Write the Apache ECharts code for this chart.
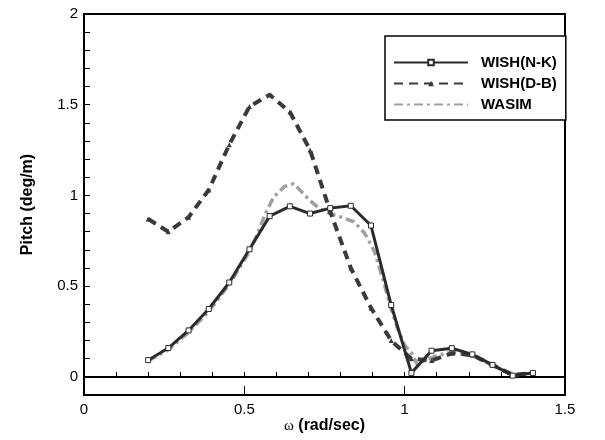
<!DOCTYPE html>
<html><head><meta charset="utf-8">
<script src="https://cdn.jsdelivr.net/npm/echarts@6/dist/echarts.min.js"></script>
<style>html,body{margin:0;padding:0;background:#fff;}#c{width:605px;height:440px;}</style>
</head><body><div id="c"></div>
<script>
const seriesNames = ['WISH(N-K)', 'WISH(D-B)', 'WASIM'];
const xNK = [0.2,0.263,0.326,0.389,0.453,0.516,0.579,0.642,0.705,0.768,0.832,0.895,0.958,1.021,1.084,1.147,1.211,1.274,1.337,1.4];
const yNK = [0.092,0.159,0.256,0.374,0.52,0.703,0.886,0.94,0.9,0.93,0.943,0.834,0.396,0.022,0.144,0.158,0.124,0.066,0.007,0.022];
const xDB = [0.2,0.263,0.326,0.389,0.453,0.516,0.579,0.642,0.705,0.768,0.832,0.895,0.958,1.021,1.084,1.147,1.211,1.274,1.337,1.4];
const yDB = [0.87,0.80,0.88,1.03,1.28,1.49,1.555,1.46,1.25,0.91,0.60,0.38,0.20,0.10,0.09,0.13,0.12,0.065,0.012,0.02];
const xWA = [0.2,0.263,0.326,0.389,0.453,0.516,0.541,0.566,0.591,0.626,0.654,0.676,0.706,0.736,0.776,0.806,0.842,0.876,0.906,0.93,0.952,0.977,1.0,1.022,1.04,1.062,1.092,1.147,1.211,1.274,1.337,1.4];
const yWA = [0.088,0.15,0.245,0.36,0.51,0.69,0.79,0.90,0.99,1.05,1.065,1.025,0.97,0.925,0.895,0.878,0.855,0.79,0.69,0.55,0.41,0.27,0.175,0.13,0.065,0.09,0.112,0.138,0.117,0.063,0.01,0.02];
const xTickLabels = ['0','0.5','1','1.5'];
const yTickLabels = ['0','0.5','1','1.5','2'];

const pairs = (xs, ys) => xs.map((x, i) => [x, ys[i]]);
const font = 'Liberation Sans, Arial, sans-serif';
const chart = echarts.init(document.getElementById('c'));
const isMajor = v => Math.abs(v / 0.5 - Math.round(v / 0.5)) < 1e-6;

chart.setOption({
  animation: false,
  backgroundColor: '#fff',
  grid: { left: 84, right: 40, top: 14, bottom: 45, show: true, borderColor: '#000', borderWidth: 2, backgroundColor: 'transparent' },
  legend: {
    orient: 'vertical', left: 385, top: 36,
    padding: [19, 9, 8, 8], itemGap: 6, itemWidth: 74, itemHeight: 7,
    borderColor: '#000', borderWidth: 1.5, backgroundColor: '#fff',
    textStyle: { fontFamily: font, fontWeight: 'bold', fontSize: 15, color: '#000', padding: [0, 0, 0, 8] },
    data: [seriesNames[0], seriesNames[1], { name: seriesNames[2], itemStyle: { opacity: 0 } }]
  },
  xAxis: [{
    type: 'value', min: 0, max: 1.5, interval: 0.1,
    axisLine: { lineStyle: { color: '#000', width: 2 } },
    axisTick: { inside: true, length: 5, lineStyle: { color: '#000', width: 1 } },
    axisLabel: { show: false },
    splitLine: { show: false },
    name: '{o|ω} (rad/sec)', nameLocation: 'middle', nameGap: 23,
    nameTextStyle: { fontFamily: font, fontWeight: 'bold', fontSize: 16, color: '#000',
      rich: { o: { fontFamily: 'Liberation Serif, serif', fontWeight: 'normal', fontSize: 15, color: '#000' } } }
  }, {
    type: 'value', min: 0, max: 1.5, interval: 0.5, position: 'bottom',
    axisLine: { show: false },
    axisTick: { inside: true, length: 9, lineStyle: { color: '#000', width: 1 } },
    axisLabel: { margin: 7, fontFamily: font, fontSize: 15, color: '#000',
      formatter: v => xTickLabels[Math.round(v / 0.5)] },
    splitLine: { show: false }
  }],
  yAxis: {
    type: 'value', min: -0.1, max: 2, interval: 0.1,
    axisLine: { lineStyle: { color: '#000', width: 2 } },
    axisTick: { inside: true, length: 6, lineStyle: { color: '#000', width: 1 } },
    axisLabel: { margin: 6, fontFamily: font, fontSize: 15, color: '#000',
      formatter: v => (v > -1e-6 && isMajor(v)) ? yTickLabels[Math.round(v / 0.5)] : '' },
    splitLine: { show: false },
    name: 'Pitch (deg/m)', nameLocation: 'middle', nameGap: 48,
    nameTextStyle: { fontFamily: font, fontWeight: 'bold', fontSize: 16, color: '#000' }
  },
  series: [{
    name: seriesNames[0], type: 'line', data: pairs(xNK, yNK), z: 4,
    symbol: 'rect', symbolSize: 5, showSymbol: true,
    lineStyle: { color: '#2b2b2b', width: 3 },
    itemStyle: { color: '#fff', borderColor: '#2b2b2b', borderWidth: 1 }
  }, {
    name: seriesNames[1], type: 'line', data: pairs(xDB, yDB), z: 3,
    symbol: 'triangle', symbolSize: 5,
    lineStyle: { color: '#3a3a3a', width: 4, type: [9, 6] },
    itemStyle: { color: '#3a3a3a' }
  }, {
    name: seriesNames[2], type: 'line', data: pairs(xWA, yWA), z: 2,
    symbol: 'none',
    lineStyle: { color: '#a0a0a0', width: 3.5, type: [9, 4, 3, 4] },
    itemStyle: { color: '#a0a0a0' }
  }]
});
</script></body></html>
